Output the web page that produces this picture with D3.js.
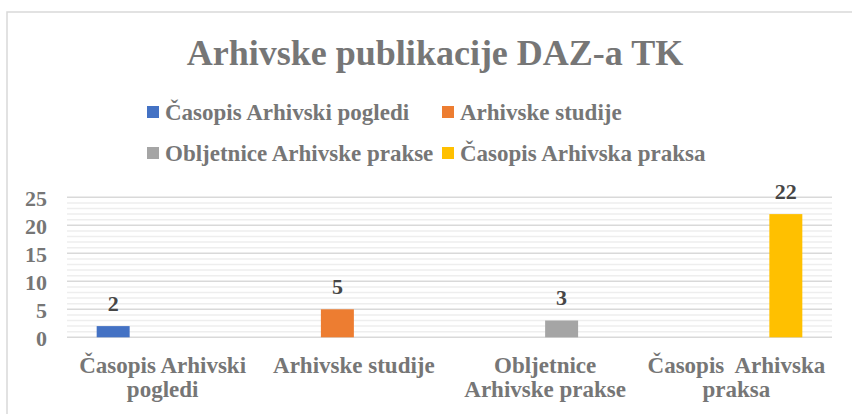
<!DOCTYPE html>
<html>
<head>
<meta charset="utf-8">
<script src="https://cdn.jsdelivr.net/npm/d3@7"></script>
<style>
  body { margin: 0; background: #fff; }
  svg { display: block; font-family: "Liberation Serif", "Times New Roman", serif; font-weight: bold; }
</style>
</head>
<body>
<svg id="chart" width="852" height="414"></svg>
<script>
// chart data
var categories = ["Časopis Arhivski pogledi", "Arhivske studije", "Obljetnice Arhivske prakse", "Časopis Arhivska praksa"];
var categoryLines = [["Časopis Arhivski", "pogledi"], ["Arhivske studije"], ["Obljetnice", "Arhivske prakse"], ["Časopis  Arhivska", "praksa"]];
var seriesNames = ["Časopis Arhivski pogledi", "Arhivske studije", "Obljetnice Arhivske prakse", "Časopis Arhivska praksa"];
var seriesColors = ["#4472C4", "#ED7D31", "#A5A5A5", "#FFC000"];
var seriesValues = [
  [2, null, null, null],
  [null, 5, null, null],
  [null, null, 3, null],
  [null, null, null, 22]
];
var yTicks = [0, 5, 10, 15, 20, 25];

var svg = d3.select("#chart");
var textGrey = "#767676";

// chart frame (cut by the page edge on the right and bottom)
svg.append("rect")
  .attr("x", 7).attr("y", 12)
  .attr("width", 900).attr("height", 450)
  .attr("fill", "#fff")
  .attr("stroke", "#d9d9d9")
  .attr("stroke-width", 1.5);

svg.append("text")
  .attr("x", 435).attr("y", 65)
  .attr("text-anchor", "middle")
  .attr("font-size", 36)
  .attr("fill", textGrey)
  .text("Arhivske publikacije DAZ-a TK");

var x0 = d3.scaleBand().domain(categories).range([67, 832]);
var x1 = d3.scaleBand().domain(seriesNames).range([0, x0.bandwidth()]).paddingOuter(0.9);
var y = d3.scaleLinear().domain([0, 25]).range([337.3, 197.3]);

// minor then major gridlines
svg.append("g").selectAll("line")
  .data(y.ticks(25).filter(function(d) { return d % 5 != 0; }))
  .enter().append("line")
    .attr("x1", 67).attr("x2", 832)
    .attr("y1", function(d) { return y(d); })
    .attr("y2", function(d) { return y(d); })
    .attr("stroke", "#eeeeee")
    .attr("stroke-width", 1.5);

svg.append("g").selectAll("line")
  .data(yTicks)
  .enter().append("line")
    .attr("x1", 67).attr("x2", 832)
    .attr("y1", function(d) { return y(d); })
    .attr("y2", function(d) { return y(d); })
    .attr("stroke", "#d9d9d9")
    .attr("stroke-width", 1.6);

// y axis
var yAxis = svg.append("g")
  .attr("transform", "translate(67,0)")
  .call(d3.axisLeft(y).tickValues(yTicks).tickSize(0).tickPadding(20))
  .attr("font-family", null);
yAxis.select(".domain").remove();
yAxis.selectAll("text")
  .attr("font-size", 22)
  .attr("fill", textGrey)
  .attr("dy", "0.36em");

// x axis with wrapped labels
var xAxis = svg.append("g")
  .attr("transform", "translate(0,337.3)")
  .call(d3.axisBottom(x0).tickSize(0))
  .attr("font-family", null);
xAxis.select(".domain").remove();
xAxis.selectAll("text")
  .attr("font-size", 23)
  .attr("fill", textGrey)
  .attr("y", 0)
  .attr("dy", null)
  .style("white-space", "pre")
  .each(function(d, i) {
    var t = d3.select(this).text(null);
    categoryLines[i].forEach(function(line, k) {
      t.append("tspan")
        .attr("x", 0)
        .attr("y", 36 + k * 24)
        .text(line);
    });
  });

// bars
var series = svg.append("g").selectAll("g")
  .data(seriesValues)
  .enter().append("g")
    .attr("fill", function(d, i) { return seriesColors[i]; });

series.each(function(vals, si) {
  var pts = vals.map(function(v, ci) { return {v: v, c: categories[ci]}; })
    .filter(function(p) { return p.v != null; });
  var g = d3.select(this);
  g.selectAll("rect")
    .data(pts)
    .enter().append("rect")
      .attr("x", function(p) { return x0(p.c) + x1(seriesNames[si]); })
      .attr("width", x1.bandwidth())
      .attr("y", function(p) { return y(p.v); })
      .attr("height", function(p) { return y(0) - y(p.v); });
  g.selectAll("text")
    .data(pts)
    .enter().append("text")
      .attr("x", function(p) { return x0(p.c) + x1(seriesNames[si]) + x1.bandwidth() / 2; })
      .attr("y", function(p) { return y(p.v) - 15.5; })
      .attr("text-anchor", "middle")
      .attr("font-size", 22)
      .attr("fill", "#464646")
      .text(function(p) { return p.v; });
});

// legend, two columns
var legend = svg.append("g").selectAll("g")
  .data(seriesNames)
  .enter().append("g")
    .attr("transform", function(d, i) {
      return "translate(" + (i % 2 == 0 ? 147 : 442) + "," + (i < 2 ? 120 : 161) + ")";
    });
legend.append("rect")
  .attr("x", 0).attr("y", -14)
  .attr("width", 12).attr("height", 12)
  .attr("fill", function(d, i) { return seriesColors[i]; });
legend.append("text")
  .attr("x", 18).attr("y", 0)
  .attr("font-size", 23)
  .attr("fill", textGrey)
  .text(function(d) { return d; });
</script>
</body>
</html>
